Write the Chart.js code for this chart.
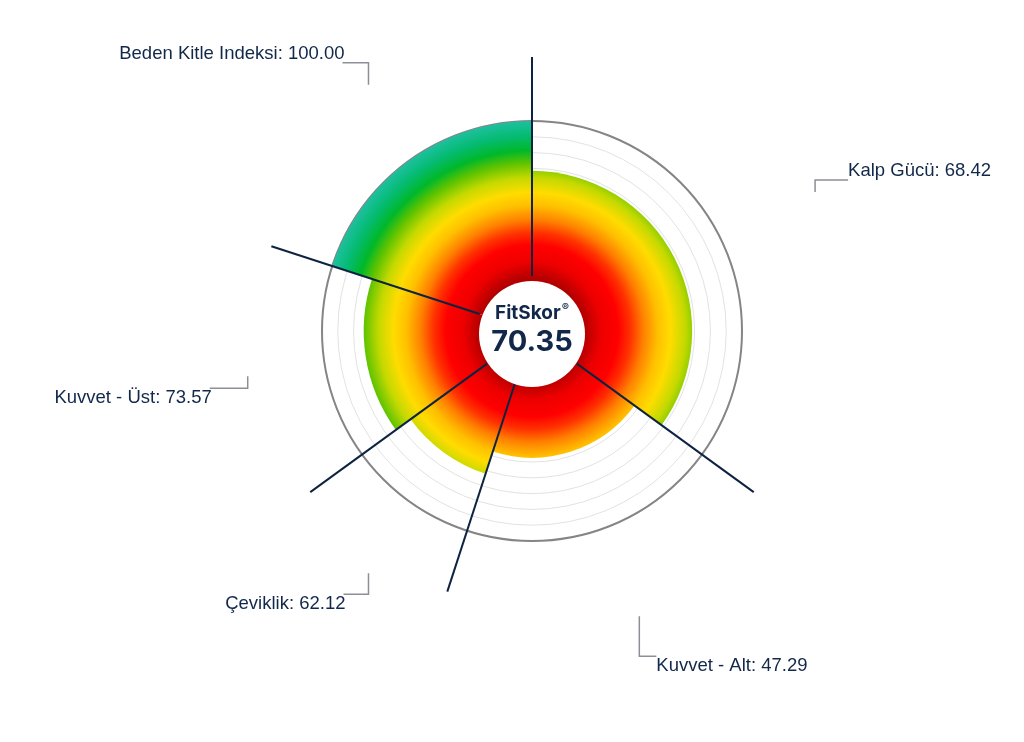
<!DOCTYPE html>
<html lang="tr">
<head>
<meta charset="utf-8">
<title>FitSkor</title>
<script src="https://cdn.jsdelivr.net/npm/chart.js@4.4.1/dist/chart.umd.min.js"></script>
<style>
  html, body { margin: 0; padding: 0; background: #fff; }
  #wrap { width: 1024px; height: 742px; position: relative; }
</style>
</head>
<body>
<div id="wrap"><canvas id="fitChart"></canvas></div>
<script>
// data, clockwise from 12 o'clock
const categories = ["Kalp Gücü", "Kuvvet - Alt", "Çeviklik", "Kuvvet - Üst", "Beden Kitle Indeksi"];
const scores = [68.42, 47.29, 62.12, 73.57, 100.0];
const weights = [35, 20, 10, 15, 20]; // share of the circle, %
const totalScore = 70.35;

// radial axis
const scaleMin = -33;
const scaleMax = 100;
const scaleStep = 10;

// leader line shape per label (vertical, then horizontal)
const leaderDrop = [12, 40, 21, 12, 22];
const leaderRun = [33, 17, 25, 38, 26];

const navy = "#11284a";

function fillGradient(context) {
  const chart = context.chart;
  const r = chart.scales.r;
  if (!r || !r.drawingArea) return "#ff0000";
  const g = chart.ctx.createRadialGradient(r.xCenter, r.yCenter, 0, r.xCenter, r.yCenter, r.drawingArea);
  g.addColorStop(0.0, "#8a0000");
  g.addColorStop(0.25, "#b30000");
  g.addColorStop(0.33, "#ee0000");
  g.addColorStop(0.41, "#ff0000");
  g.addColorStop(0.47, "#ff3300");
  g.addColorStop(0.53, "#ff8000");
  g.addColorStop(0.60, "#ffc000");
  g.addColorStop(0.66, "#ffdc00");
  g.addColorStop(0.73, "#c4d900");
  g.addColorStop(0.80, "#5fc300");
  g.addColorStop(0.86, "#00b82a");
  g.addColorStop(0.93, "#05bb72");
  g.addColorStop(1.0, "#1dc09f");
  return g;
}

const overlay = {
  id: "overlay",
  afterDatasetsDraw(chart) {
    const ctx = chart.ctx;
    const r = chart.scales.r;
    const cx = r.xCenter, cy = r.yCenter, R = r.drawingArea;
    const arcs = chart.getDatasetMeta(0).data;
    ctx.save();

    // spokes on the segment borders
    ctx.strokeStyle = "#0d2340";
    ctx.lineWidth = 2;
    arcs.forEach((a) => {
      const ang = a.getProps(["startAngle"], true).startAngle;
      ctx.beginPath();
      ctx.moveTo(cx + 55 * Math.cos(ang), cy + 55 * Math.sin(ang));
      ctx.lineTo(cx + R * 1.305 * Math.cos(ang), cy + R * 1.305 * Math.sin(ang));
      ctx.stroke();
    });

    // centre disc
    ctx.fillStyle = "#ffffff";
    ctx.beginPath();
    ctx.arc(cx, cy + 3, 53, 0, Math.PI * 2);
    ctx.fill();

    // centre text
    ctx.fillStyle = navy;
    ctx.textBaseline = "alphabetic";
    ctx.font = "bold 19px Inter";
    const w1 = ctx.measureText("FitSkor").width;
    ctx.font = "bold 11px Inter";
    const w2 = ctx.measureText("®").width;
    const x0 = cx - (w1 + w2 + 1) / 2;
    ctx.font = "bold 19px Inter";
    ctx.textAlign = "left";
    ctx.fillText("FitSkor", x0, cy - 12);
    ctx.font = "bold 11px Inter";
    ctx.fillText("®", x0 + w1 + 1, cy - 20);
    ctx.font = "bold 29px Inter";
    ctx.textAlign = "center";
    ctx.fillText(totalScore.toFixed(2), cx, cy + 20);

    // labels with leader lines
    const lx = cx + 14, ly = cy - 2, lr = R + 92;
    ctx.font = "18.5px 'Liberation Sans', Arial, sans-serif";
    arcs.forEach((a, i) => {
      const p = a.getProps(["startAngle", "endAngle"], true);
      const mid = (p.startAngle + p.endAngle) / 2;
      const ax = lx + lr * Math.cos(mid);
      const ay = ly + lr * Math.sin(mid);
      const down = Math.sin(mid) > 0;
      const right = Math.cos(mid) > 0;
      const ky = ay + (down ? leaderDrop[i] : -leaderDrop[i]);
      const ex = ax + (right ? leaderRun[i] : -leaderRun[i]);
      ctx.strokeStyle = "#8d8f96";
      ctx.lineWidth = 1.5;
      ctx.beginPath();
      ctx.moveTo(ax, ay);
      ctx.lineTo(ax, ky);
      ctx.lineTo(ex, ky);
      ctx.stroke();
      ctx.fillStyle = navy;
      ctx.textAlign = right ? "left" : "right";
      const text = categories[i] + ": " + scores[i].toFixed(2);
      ctx.fillText(text, right ? ex : ex + 2, down ? ky + 15 : ky - 4);
    });
    ctx.restore();
  },
};

new Chart(document.getElementById("fitChart"), {
  type: "polarArea",
  data: {
    labels: categories,
    datasets: [
      {
        data: scores,
        angle: (c) => (weights[c.dataIndex] / 100) * 360,
        backgroundColor: fillGradient,
        borderWidth: 0,
      },
    ],
  },
  options: {
    responsive: true,
    maintainAspectRatio: false,
    animation: false,
    layout: {
      padding: { left: 322, right: 282, top: 121, bottom: 201 },
    },
    plugins: {
      legend: { display: false },
      tooltip: { enabled: false },
    },
    scales: {
      r: {
        min: scaleMin,
        max: scaleMax,
        ticks: { display: false, stepSize: scaleStep },
        pointLabels: { display: false },
        angleLines: { display: false },
        grid: {
          circular: true,
          color: (c) => (c.tick && c.tick.value === scaleMax ? "#858585" : "#e2e2e2"),
          lineWidth: (c) => (c.tick && c.tick.value === scaleMax ? 2 : 1),
        },
      },
    },
  },
  plugins: [overlay],
});
</script>
</body>
</html>
